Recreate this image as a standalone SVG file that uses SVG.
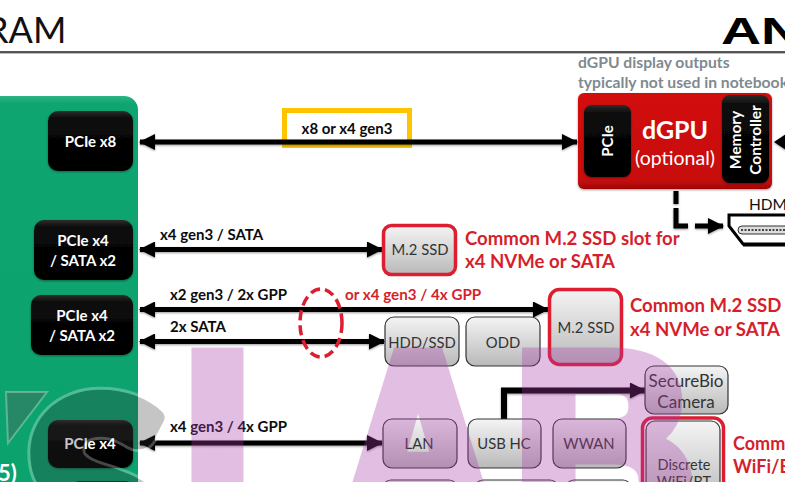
<svg xmlns="http://www.w3.org/2000/svg" width="785" height="482" viewBox="0 0 785 482">
<defs>
<linearGradient id="gBlack" x1="0" y1="0" x2="0" y2="1"><stop offset="0" stop-color="#2c2c2c"/><stop offset=".12" stop-color="#0a0a0a"/><stop offset="1" stop-color="#000"/></linearGradient>
<linearGradient id="gGrey" x1="0" y1="0" x2="0" y2="1"><stop offset="0" stop-color="#f4f4f4"/><stop offset="1" stop-color="#b9b9b9"/></linearGradient>
<linearGradient id="gRed" x1="0" y1="0" x2="0" y2="1"><stop offset="0" stop-color="#d20c0c"/><stop offset=".9" stop-color="#c80808"/><stop offset="1" stop-color="#a00606"/></linearGradient>
<linearGradient id="gGreen" x1="0" y1="0" x2="0" y2="1"><stop offset="0" stop-color="#2bb584"/><stop offset=".02" stop-color="#0ea571"/><stop offset="1" stop-color="#0ca26e"/></linearGradient>
<filter id="soft" x="-10%" y="-10%" width="120%" height="125%"><feDropShadow dx="0" dy="1" stdDeviation="1.2" flood-color="#000" flood-opacity=".4"/></filter>
<marker id="head" viewBox="0 0 16 16" markerUnits="userSpaceOnUse" markerWidth="16" markerHeight="16" refX="15" refY="8" orient="auto-start-reverse"><path d="M0 0L16 8L0 16Z" fill="#000"/></marker>
</defs>
<style>
text{font-family:Lato,"Liberation Sans",sans-serif}
.wire{fill:none;stroke:#000;stroke-width:5}
.both{marker-start:url(#head);marker-end:url(#head)}
.one{marker-end:url(#head)}
.black{fill:url(#gBlack);filter:url(#soft)}
.grey{fill:url(#gGrey);stroke:#333;stroke-width:1.2}
.m2{fill:url(#gGrey);stroke:#dd1e30;stroke-width:3.5}
.wl{font-size:15px;font-weight:700;fill:#fff;text-anchor:middle}
.bl{font-size:15px;font-weight:700;fill:#0c0c0c}
.dev{font-size:14.8px;fill:#333;text-anchor:middle}
.cam{font-size:17px;fill:#333;text-anchor:middle}
.red{font-size:18.6px;font-weight:700;fill:#d61f2c}
.gray{font-size:15.7px;font-weight:700;fill:#7f8a90}
text.wm{font-family:"Liberation Sans",sans-serif;font-size:258px;font-weight:700;fill:#aa3caa;stroke:#aa3caa;stroke-width:18;stroke-linejoin:miter}
.ws{font-size:258px;font-weight:900;stroke-linejoin:round}
</style>

<text x="-14" y="43" font-size="36" fill="#111">RAM</text>
<rect x="0" y="51" width="785" height="2.4" fill="#555"/>
<text transform="translate(721 44) scale(1.5 1)" font-size="37" font-weight="700" fill="#000" style="font-family:'Liberation Sans',sans-serif">AN</text>

<g id="apu">
<path d="M-10 96H124A14 14 0 0 1 138 110V492H-10Z" fill="url(#gGreen)"/>
<text x="-2" y="481" font-size="22" font-weight="700" fill="#fff">5)</text>
</g>
<g id="apu-pcie-x8"><rect class="black" x="48" y="111" width="85" height="60" rx="10"/><text class="wl" x="90.500" y="147">PCIe x8</text></g>
<g id="apu-pcie-a"><rect class="black" x="34" y="220" width="99" height="60" rx="10"/><text class="wl" x="83" y="246">PCIe x4</text><text class="wl" x="83" y="266">/ SATA x2</text></g>
<g id="apu-pcie-b"><rect class="black" x="31" y="295" width="102" height="60" rx="10"/><text class="wl" x="82" y="321">PCIe x4</text><text class="wl" x="82" y="341">/ SATA x2</text></g>
<g id="apu-pcie-c"><rect class="black" x="48" y="420" width="85" height="48" rx="10"/><text class="wl" x="90" y="449">PCIe x4</text></g>
<g id="apu-pcie-d"><rect class="black" x="72" y="481" width="61" height="40" rx="8"/></g>

<g id="link-label-box"><rect x="284.500" y="110.500" width="125" height="35" fill="#fff" stroke="#fec400" stroke-width="5"/></g>

<g id="connectors">
<g filter="url(#soft)">
<path class="wire both" d="M140 142H577"/>
<path class="wire both" d="M140 249.500H382"/>
<path class="wire both" d="M140 309.500H548"/>
<path class="wire both" d="M140 341.500H384"/>
<path class="wire both" d="M140 443H382"/>
<path class="wire one" d="M504 420V390.500H645" style="stroke-width:6"/>
<path class="wire" d="M785 142H780"/>
<path d="M774 142L786 134V150Z" fill="#000"/>
<path class="wire" d="M676 191V204M676 208V226H688"/>
<path class="wire one" d="M695 226H723"/>
</g>
<ellipse cx="321" cy="323" rx="21" ry="34" fill="none" stroke="#dd1e30" stroke-width="3.500" stroke-dasharray="10 5"/>
</g>

<g id="link-labels">
<text class="bl" x="347" y="134" text-anchor="middle">x8 or x4 gen3</text>
<text class="bl" x="160" y="240">x4 gen3 / SATA</text>
<text class="bl" x="170" y="300">x2 gen3 / 2x GPP</text>
<text class="bl" x="345" y="300" style="fill:#d61f2c;font-size:15.2px">or x4 gen3 / 4x GPP</text>
<text class="bl" x="170" y="332">2x SATA</text>
<text class="bl" x="170" y="432">x4 gen3 / 4x GPP</text>
</g>

<g id="dgpu">
<rect x="578" y="93" width="194" height="96" rx="6" fill="url(#gRed)" filter="url(#soft)"/>
<rect class="black" x="584" y="105" width="47" height="72" rx="8"/>
<rect class="black" x="722" y="95" width="47" height="88" rx="8"/>
<text class="wl" transform="translate(613 141) rotate(-90)">PCIe</text>
<text x="675" y="139" font-size="25" font-weight="700" fill="#fff" text-anchor="middle">dGPU</text>
<text x="675" y="165" font-size="19.500" fill="#fff" text-anchor="middle">(optional)</text>
<text class="wl" transform="translate(741 140) rotate(-90)" style="font-size:15.500px">Memory</text>
<text class="wl" transform="translate(761 140) rotate(-90)" style="font-size:15.500px">Controller</text>
</g>
<text class="gray" x="578" y="68">dGPU display outputs</text>
<text class="gray" x="578" y="88">typically not used in notebook</text>

<g id="hdmi">
<text x="749" y="210" font-size="15.500" fill="#111">HDM</text>
<path d="M729 215H790V244H743L729 226Z" fill="#fff" stroke="#000" stroke-width="3"/>
<path d="M743 245H790" stroke="#000" stroke-width="3"/>
<rect x="738" y="226" width="52" height="8" rx="4" fill="#ddd" stroke="#333" stroke-width="1"/>
<path d="M741 230H790" stroke="#444" stroke-width="2" stroke-dasharray="2 1.500"/>
</g>

<g id="ssd-a"><rect class="m2" x="383.500" y="225.500" width="72" height="49" rx="8"/><text class="dev" x="420" y="255">M.2 SSD</text></g>
<text class="red" x="465" y="245">Common M.2 SSD slot for</text>
<text class="red" x="465" y="268">x4 NVMe or SATA</text>
<g id="ssd-b"><rect class="m2" x="549.500" y="289.500" width="72" height="75" rx="10"/><text class="dev" x="586" y="333">M.2 SSD</text></g>
<text class="red" x="630" y="312">Common M.2 SSD</text>
<text class="red" x="630" y="336">x4 NVMe or SATA</text>
<g id="hdd"><rect class="grey" x="385" y="317" width="74" height="49" rx="9"/><text class="dev" x="422" y="348">HDD/SSD</text></g>
<g id="odd"><rect class="grey" x="466" y="317" width="74" height="49" rx="9"/><text class="dev" x="503" y="348">ODD</text></g>
<g id="camera"><rect class="grey" x="645" y="366" width="83" height="48" rx="9"/><text class="cam" x="686" y="387">SecureBio</text><text class="cam" x="686" y="408">Camera</text></g>
<g id="lan"><rect class="grey" x="383" y="419" width="74" height="49" rx="9"/><text class="dev" x="419" y="449">LAN</text></g>
<g id="usb"><rect class="grey" x="468" y="419" width="73" height="49" rx="9"/><text class="dev" x="504" y="449">USB HC</text></g>
<g id="wwan"><rect class="grey" x="553" y="419" width="73" height="49" rx="9"/><text class="dev" x="589" y="449">WWAN</text></g>
<g id="wifi">
<rect x="642.500" y="418" width="81" height="90" rx="10" fill="none" stroke="#dd1e30" stroke-width="3.500"/>
<rect class="grey" x="646" y="421" width="74" height="85" rx="9"/>
<text class="dev" x="684" y="470" style="font-size:14.500px">Discrete</text>
<text class="dev" x="684" y="487" style="font-size:14.500px">WiFi/BT</text>
</g>
<text class="red" x="733" y="450" style="font-size:18px">Comm</text>
<text class="red" x="733" y="473" style="font-size:18px">WiFi/B</text>
<g id="row-below"><rect class="grey" x="383" y="480" width="74" height="30" rx="8"/><rect class="grey" x="475" y="480" width="83" height="30" rx="8"/><rect class="grey" x="566" y="480" width="65" height="30" rx="8"/></g>

<!-- translucent watermark lettering over the whole sheet -->
<g id="watermark">
<path d="M6 392H47L8 443Z" fill="#555" fill-opacity=".35" stroke="#fff" stroke-opacity=".3" stroke-width="2"/>
<g opacity=".28">
<text class="ws" x="26" y="587" fill="#fff" stroke="#fff" stroke-width="22">S</text>
<text class="ws" x="26" y="587" fill="#333" stroke="#333" stroke-width="16">S</text>
</g>
<g opacity=".33">
<text class="wm" transform="translate(187 537) scale(.85 1)" style="stroke-width:24">L</text>
<text class="wm" transform="translate(339 534) scale(.85 1)">A</text>
<text class="wm" transform="translate(514 534) scale(.97 1)">B</text>
</g>
</g>
</svg>
